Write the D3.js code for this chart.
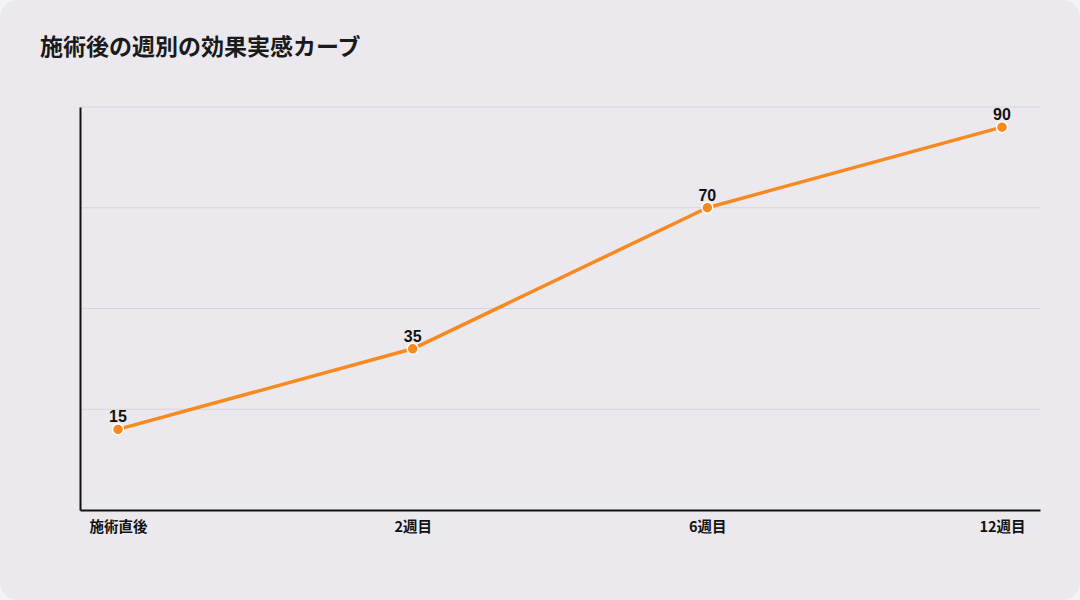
<!DOCTYPE html>
<html><head><meta charset="utf-8">
<script src="https://cdn.jsdelivr.net/npm/d3@7/dist/d3.min.js"></script>
<style>
html,body{margin:0;padding:0;background:#f4f3f6;}
svg{display:block;}
text{font-family:"Noto Sans CJK JP","Noto Sans",sans-serif;}
</style></head>
<body><svg id="c" width="1080" height="600"></svg>
<script>
const title = "施術後の週別の効果実感カーブ";
const categories = ["施術直後","2週目","6週目","12週目"];
const values = [15, 35, 70, 90];
const gridTicks = [-5, 20, 45, 70, 95];

const W = 1080, H = 600;
const m = {left:80, right:40, top:107, bottom:90};
const svg = d3.select("#c");
svg.append("rect").attr("x",0).attr("y",0).attr("width",W).attr("height",H)
  .attr("rx",18).attr("fill","#ebe9ee");

svg.append("text").attr("x",40).attr("y",55).text(title)
  .attr("font-size",23).attr("font-weight",700).attr("fill","#1a1a1a");

const x = d3.scalePoint().domain(categories).range([m.left, W-m.right]).padding(0.129);
const y = d3.scaleLinear().domain([-5,95]).range([H-m.bottom, m.top]);

svg.append("g").selectAll("line.grid").data(gridTicks.slice(1)).join("line")
  .attr("class","grid")
  .attr("x1",m.left).attr("x2",W-m.right)
  .attr("y1",d=>y(d)).attr("y2",d=>y(d))
  .attr("stroke","#d6d4da").attr("stroke-width",1);

const xAxis = svg.append("g").attr("transform",`translate(0,${H-m.bottom})`)
  .call(d3.axisBottom(x).tickSize(0).tickPadding(12));
xAxis.select(".domain").attr("stroke","#111").attr("stroke-width",2);
xAxis.selectAll("text").attr("font-size",14.5).attr("font-weight",700).attr("fill","#111");

const yAxis = svg.append("g").attr("transform",`translate(${m.left},0)`)
  .call(d3.axisLeft(y).tickValues([]).tickSize(0));
yAxis.select(".domain").attr("stroke","#111").attr("stroke-width",2);

const data = categories.map((c,i)=>({c, v:values[i]}));
const line = d3.line().x(d=>x(d.c)).y(d=>y(d.v));
svg.append("path").datum(data).attr("d",line)
  .attr("fill","none").attr("stroke","#f7891f").attr("stroke-width",3.5)
  .attr("stroke-linejoin","round");

svg.selectAll("circle.pt").data(data).join("circle")
  .attr("class","pt").attr("cx",d=>x(d.c)).attr("cy",d=>y(d.v)).attr("r",5.5)
  .attr("fill","#f7891f").attr("stroke","#ffffff").attr("stroke-width",1.5);

svg.selectAll("text.lbl").data(data).join("text")
  .attr("class","lbl").attr("x",d=>x(d.c)).attr("y",d=>y(d.v)-7)
  .attr("text-anchor","middle").attr("font-size",16).attr("font-weight",700)
  .attr("fill","#111").style("font-family",'"Liberation Sans",Arial,sans-serif').text(d=>d.v);
</script></body></html>
